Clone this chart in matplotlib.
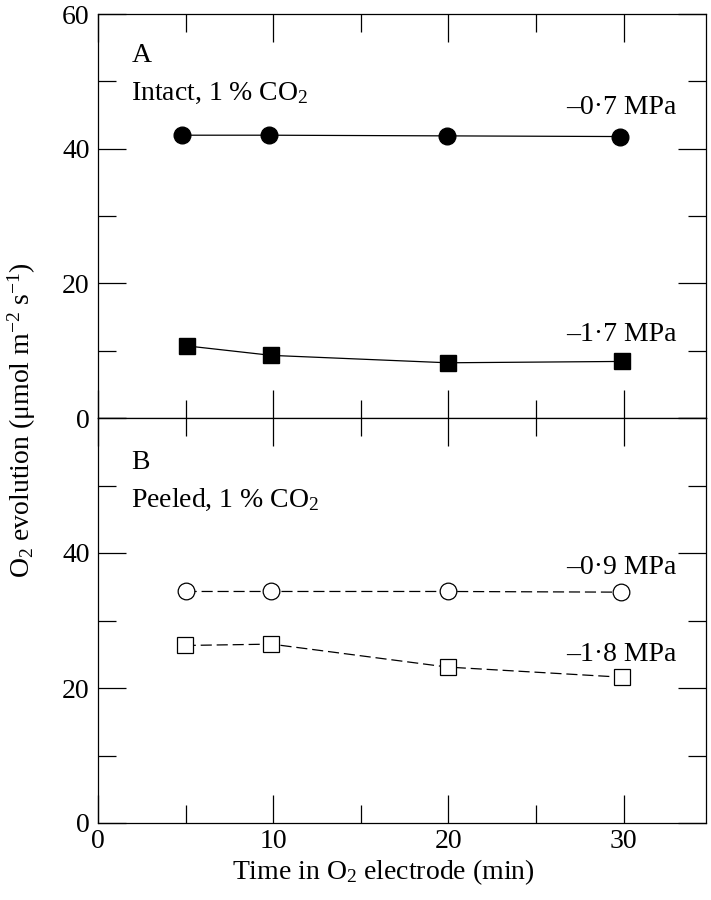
import matplotlib
matplotlib.use('Agg')
import matplotlib.pyplot as plt
from matplotlib.ticker import MultipleLocator

plt.rcParams['font.family'] = ['Liberation Serif', 'DejaVu Serif']
plt.rcParams['mathtext.fontset'] = 'custom'
plt.rcParams['mathtext.rm'] = 'Liberation Serif'
plt.rcParams['mathtext.it'] = 'Liberation Serif:italic'
plt.rcParams['lines.scale_dashes'] = False

# Panel A: intact leaves, 1 % CO2
tiempo_a_circ = [4.8, 9.75, 19.9, 29.8]
o2_a_circ = [42.0, 42.0, 41.9, 41.8]      # -0.7 MPa
tiempo_a_cuad = [5.1, 9.9, 19.95, 29.9]
o2_a_cuad = [10.7, 9.3, 8.2, 8.4]         # -1.7 MPa

# Panel B: peeled leaves, 1 % CO2
tiempo_b_circ = [5.0, 9.9, 19.95, 29.85]
o2_b_circ = [34.3, 34.3, 34.3, 34.2]      # -0.9 MPa
tiempo_b_cuad = [4.95, 9.9, 19.95, 29.9]
o2_b_cuad = [26.3, 26.5, 23.1, 21.6]      # -1.8 MPa

tam_fuente = 20

fig = plt.figure(figsize=(7.11, 9.0), dpi=100)
ax_a = fig.add_axes([98/711, 1-418/900, 608/711, 404/900])
ax_b = fig.add_axes([98/711, 1-823/900, 608/711, 405/900])

# curvas
ax_a.plot(tiempo_a_circ, o2_a_circ, color='black', lw=0.9, marker='o',
          ms=12, mfc='black', mec='black')
ax_a.plot(tiempo_a_cuad, o2_a_cuad, color='black', lw=0.9, marker='s',
          ms=12, mfc='black', mec='black')
ax_b.plot(tiempo_b_circ, o2_b_circ, color='black', lw=0.9, marker='o',
          ms=12, mfc='white', mec='black', mew=0.9, dashes=(8, 3.5))
ax_b.plot(tiempo_b_cuad, o2_b_cuad, color='black', lw=0.9, marker='s',
          ms=12, mfc='white', mec='black', mew=0.9, dashes=(8, 3.5))

for ax in (ax_a, ax_b):
    ax.set_xlim(0, 34.7)
    ax.set_ylim(0, 60)
    ax.xaxis.set_major_locator(MultipleLocator(10))
    ax.xaxis.set_minor_locator(MultipleLocator(5))
    ax.yaxis.set_major_locator(MultipleLocator(20))
    ax.yaxis.set_minor_locator(MultipleLocator(10))
    ax.tick_params(which='both', direction='in', top=True, right=True,
                   width=0.9, labelsize=tam_fuente)
    ax.tick_params(which='major', length=20)
    ax.tick_params(which='minor', length=13)
    ax.tick_params(axis='y', pad=6)
    ax.tick_params(axis='x', pad=4)
    for s in ax.spines.values():
        s.set_linewidth(0.9)

ax_a.tick_params(labelbottom=False)
ax_b.set_yticks([0, 20, 40, 60])
ax_b.set_yticklabels(['0', '20', '40', ''])

# textos
ax_a.text(1.9, 52.8, 'A', fontsize=tam_fuente)
ax_a.text(1.9, 47.2, r'Intact, 1 % CO$_2$', fontsize=tam_fuente)
ax_a.text(33.0, 45.2, '–0·7 MPa', fontsize=tam_fuente, ha='right')
ax_a.text(33.0, 11.4, '–1·7 MPa', fontsize=tam_fuente, ha='right')
ax_b.text(1.9, 52.5, 'B', fontsize=tam_fuente)
ax_b.text(1.9, 46.9, r'Peeled, 1 % CO$_2$', fontsize=tam_fuente)
ax_b.text(33.0, 36.9, '–0·9 MPa', fontsize=tam_fuente, ha='right')
ax_b.text(33.0, 24.0, '–1·8 MPa', fontsize=tam_fuente, ha='right')

ax_b.set_xlabel(r'Time in O$_2$ electrode (min)', fontsize=tam_fuente, labelpad=4)
ax_b.xaxis.set_label_coords(0.47, -0.085)
fig.text(22/711, 1-420/900, r'O$_2$ evolution (μmol m$^{-2}$ s$^{-1}$)',
         fontsize=tam_fuente, rotation=90, ha='center', va='center')

plt.savefig('out.png', dpi=100)
